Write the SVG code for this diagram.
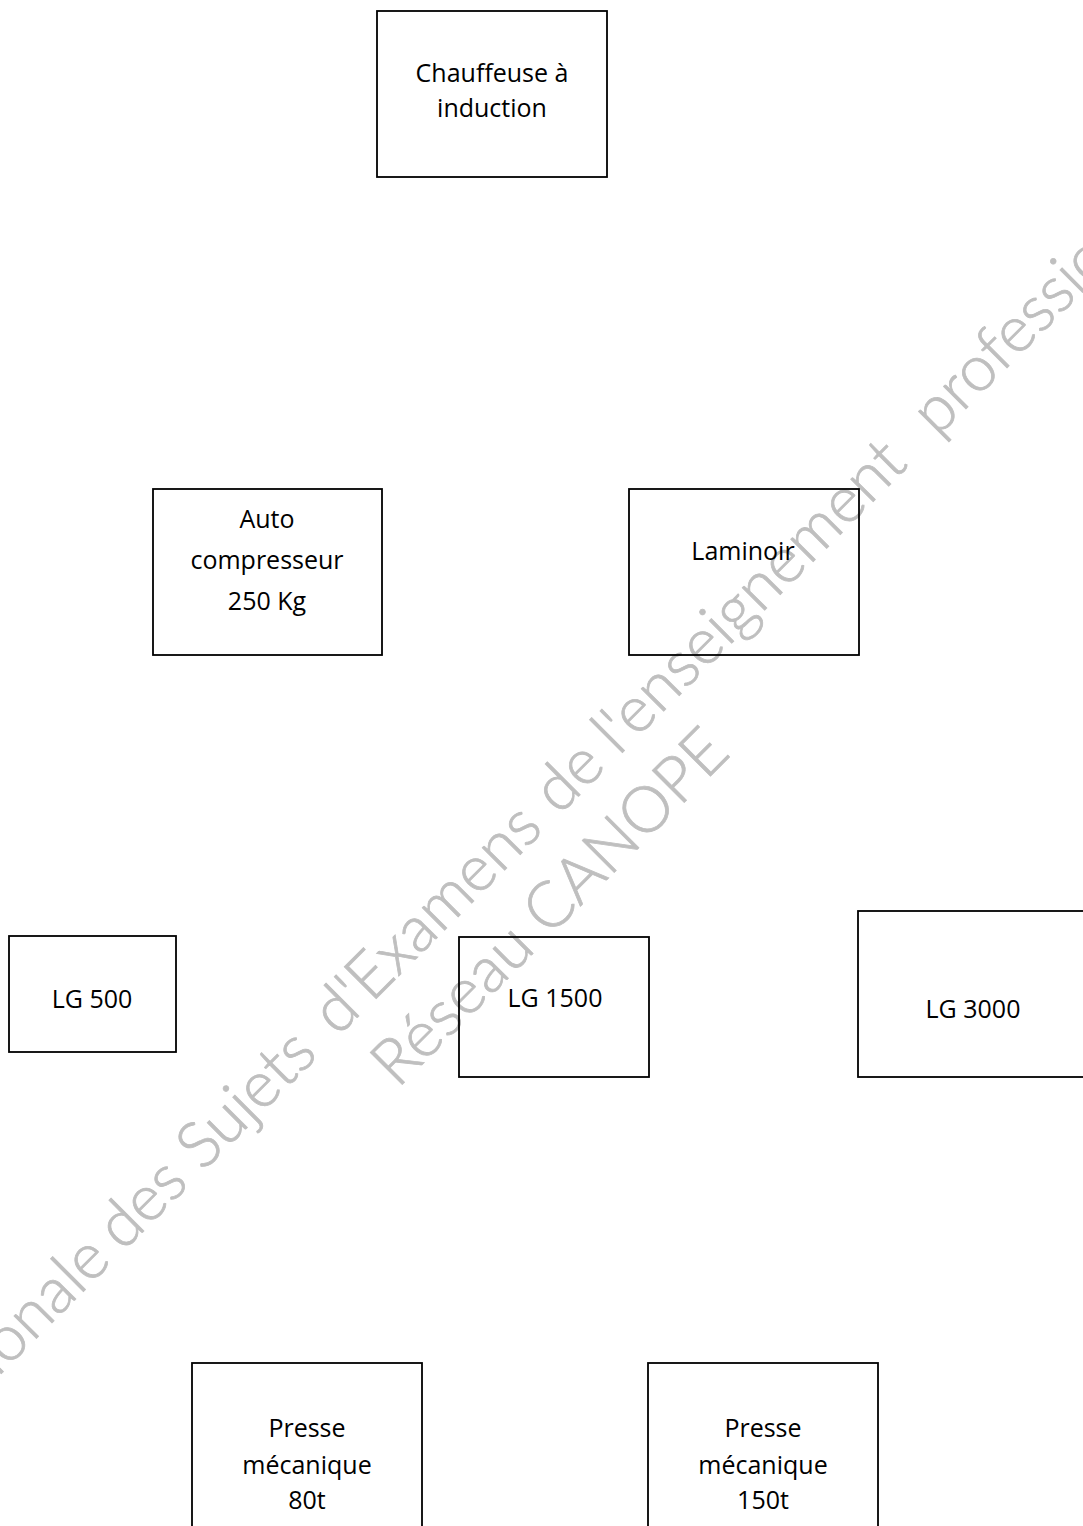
<svg xmlns="http://www.w3.org/2000/svg" width="1083" height="1526" viewBox="0 0 1083 1526">
<style>
.box{fill:none;stroke:#000;stroke-width:1.8}
.lbl{font-family:"Open Sans","Noto Sans","Liberation Sans",sans-serif;font-size:25px;fill:#000;text-anchor:middle}
.wm{font-family:Lato,"Liberation Sans",sans-serif;font-weight:300;font-size:64px;fill:#bfbfbf;stroke:#bfbfbf;stroke-width:0.8}
</style>
<rect width="1083" height="1526" fill="#fff"/>
<g id="watermark" transform="translate(535 840) rotate(-45)">
<text class="wm" y="0"><tspan x="-1010">Base Nationale </tspan><tspan x="-583">des </tspan><tspan x="-470">Sujets </tspan><tspan x="-279">d'Examens </tspan><tspan x="34">de </tspan><tspan x="118">l'enseignement </tspan><tspan x="569">professionnel</tspan></text>
<text class="wm" x="-37" y="79" text-anchor="middle" textLength="473" lengthAdjust="spacing">Réseau CANOPE</text>
</g>
<g id="connectors"></g>
<g id="chauffeuse">
<rect class="box" x="377" y="11" width="230" height="166"/>
<text class="lbl" x="492" y="82">Chauffeuse à</text>
<text class="lbl" x="492" y="117">induction</text>
</g>
<g id="auto-compresseur">
<rect class="box" x="153" y="489" width="229" height="166"/>
<text class="lbl" x="267" y="528">Auto</text>
<text class="lbl" x="267" y="569">compresseur</text>
<text class="lbl" x="267" y="610">250 Kg</text>
</g>
<g id="laminoir">
<rect class="box" x="629" y="489" width="230" height="166"/>
<text class="lbl" x="743" y="560">Laminoir</text>
</g>
<g id="lg500">
<rect class="box" x="9" y="936" width="167" height="116"/>
<text class="lbl" x="92" y="1008">LG 500</text>
</g>
<g id="lg1500">
<rect class="box" x="459" y="937" width="190" height="140"/>
<text class="lbl" x="555" y="1007">LG 1500</text>
</g>
<g id="lg3000">
<rect class="box" x="858" y="911" width="230" height="166"/>
<text class="lbl" x="973" y="1018">LG 3000</text>
</g>
<g id="presse80">
<rect class="box" x="192" y="1363" width="230" height="200"/>
<text class="lbl" x="307" y="1437">Presse</text>
<text class="lbl" x="307" y="1474">mécanique</text>
<text class="lbl" x="307" y="1509">80t</text>
</g>
<g id="presse150">
<rect class="box" x="648" y="1363" width="230" height="200"/>
<text class="lbl" x="763" y="1437">Presse</text>
<text class="lbl" x="763" y="1474">mécanique</text>
<text class="lbl" x="763" y="1509">150t</text>
</g>
</svg>
